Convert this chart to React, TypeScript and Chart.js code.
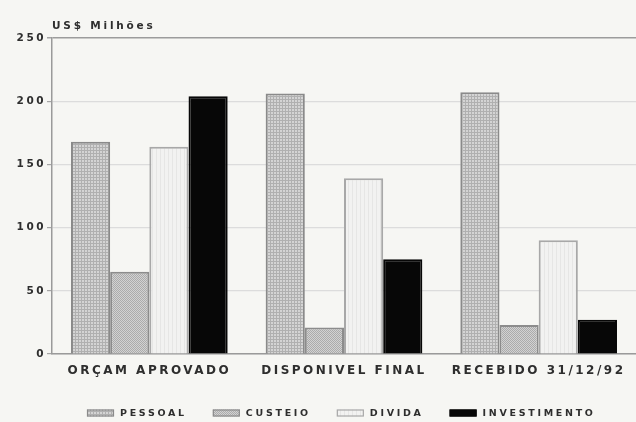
import React, { useEffect, useRef } from "react";
import { Chart, registerables } from "chart.js";

Chart.register(...registerables);

const categories = ["ORÇAM APROVADO", "DISPONIVEL FINAL", "RECEBIDO 31/12/92"];
const seriesNames = ["PESSOAL", "CUSTEIO", "DIVIDA", "INVESTIMENTO"];
const pessoal = [168, 206, 207];
const custeio = [65, 21, 23];
const divida = [164, 139, 90];
const investimento = [204, 75, 27];
const yTicks = [0, 50, 100, 150, 200, 250];
const unitLabel = "US$ Milhões";

const BG = "#f6f6f3";
const TEXT = "#2e2e2e";
const FONT = "'DejaVu Sans', sans-serif";

function makePattern(kind: string): CanvasPattern | string {
  const c = document.createElement("canvas");
  const g = c.getContext("2d")!;
  if (kind === "grid") {
    c.width = 3; c.height = 3;
    g.fillStyle = "#d4d4d4"; g.fillRect(0, 0, 3, 3);
    g.fillStyle = "#b0b0b0"; g.fillRect(0, 0, 3, 1); g.fillRect(0, 0, 1, 3);
  } else if (kind === "dots") {
    c.width = 2; c.height = 2;
    g.fillStyle = "#d2d2d2"; g.fillRect(0, 0, 2, 2);
    g.fillStyle = "#ababab"; g.fillRect(0, 0, 1, 1); g.fillRect(1, 1, 1, 1);
  } else {
    c.width = 4; c.height = 4;
    g.fillStyle = "#f2f2f1"; g.fillRect(0, 0, 4, 4);
    g.fillStyle = "#e6e6e5"; g.fillRect(0, 0, 1, 4);
  }
  return g.createPattern(c, "repeat") || "#ccc";
}

const spacingPlugin = {
  id: "spacing",
  beforeUpdate(chart: any) { chart.ctx.letterSpacing = "2.5px"; },
  beforeLayout(chart: any) { chart.ctx.letterSpacing = "2.5px"; },
  beforeDraw(chart: any) {
    const ctx = chart.ctx;
    ctx.save();
    ctx.fillStyle = BG;
    ctx.fillRect(0, 0, chart.width, chart.height);
    ctx.restore();
    ctx.letterSpacing = "2.5px";
  },
  afterDraw(chart: any) {
    const ctx = chart.ctx;
    const area = chart.chartArea;
    // unit title
    ctx.save();
    ctx.letterSpacing = "2.8px";
    ctx.font = `bold 10.5px ${FONT}`;
    ctx.fillStyle = TEXT;
    ctx.textAlign = "left";
    ctx.textBaseline = "middle";
    ctx.fillText(unitLabel, area.left, area.top - 12);
    ctx.restore();

    // legend
    ctx.save();
    ctx.letterSpacing = "2.7px";
    ctx.font = `bold 9.5px ${FONT}`;
    ctx.textBaseline = "middle";
    ctx.textAlign = "left";
    const boxW = 27, boxH = 7, gap = 6, itemGap = 26;
    const ds = chart.data.datasets;
    let x = 87;
    const y = 413;
    ds.forEach((d: any) => {
      ctx.fillStyle = d.backgroundColor;
      ctx.fillRect(x, y - boxH / 2, boxW, boxH);
      ctx.strokeStyle = d.borderColor;
      ctx.lineWidth = 1.2;
      ctx.strokeRect(x + 0.5, y - boxH / 2 + 0.5, boxW - 1, boxH - 1);
      ctx.fillStyle = TEXT;
      ctx.fillText(d.label, x + boxW + gap, y + 0.5);
      x += boxW + gap + ctx.measureText(d.label).width + itemGap;
    });
    ctx.restore();
    ctx.letterSpacing = "0px";
  },
};

export default function App() {
  const ref = useRef<HTMLCanvasElement>(null);
  useEffect(() => {
    const canvas = ref.current!;
    const fills = [makePattern("grid"), makePattern("dots"), makePattern("plain"), "#070707"];
    const borders = ["#8a8a8a", "#8c8c8c", "#a8a8a8", "#070707"];
    const values = [pessoal, custeio, divida, investimento];
    const chart = new Chart(canvas, {
      type: "bar",
      data: {
        labels: categories,
        datasets: seriesNames.map((name, i) => ({
          label: name,
          data: values[i],
          backgroundColor: fills[i] as any,
          borderColor: borders[i],
          borderWidth: 2,
          categoryPercentage: 0.805,
          barPercentage: 1,
        })),
      },
      options: {
        animation: false,
        responsive: false,
        devicePixelRatio: 1,
        layout: { padding: { top: 38, left: 0, right: 0, bottom: 30 } },
        plugins: { legend: { display: false }, tooltip: { enabled: false }, title: { display: false } },
        scales: {
          x: {
            grid: { display: false, drawTicks: false },
            border: { color: "#9a9a9a", width: 1.5 },
            ticks: {
              color: TEXT,
              font: { family: FONT, size: 12, weight: "bold" },
              padding: 10,
              maxRotation: 0,
              autoSkip: false,
            },
            afterFit(scale: any) { scale.height = 38; },
          },
          y: {
            min: 0,
            max: 250,
            afterBuildTicks(scale: any) { scale.ticks = yTicks.map((v) => ({ value: v })); },
            grid: {
              color: (c: any) => (c.tick && c.tick.value === 250 ? "#9c9c9c" : "#dcdcdc"),
              lineWidth: (c: any) => (c.tick && c.tick.value === 250 ? 1.5 : 1.2),
              tickColor: "#a5a5a5",
              tickLength: 5,
            },
            border: { color: "#9a9a9a", width: 1.5 },
            ticks: {
              color: TEXT,
              font: { family: FONT, size: 10.5, weight: "bold" },
              padding: 1,
            },
            afterFit(scale: any) { scale.width = 52; },
          },
        },
      },
      plugins: [spacingPlugin],
    });
    return () => chart.destroy();
  }, []);
  return (
    <div style={{ position: "fixed", left: 0, top: 0, width: 636, height: 422, background: BG }}>
      <canvas ref={ref} width={636} height={422} style={{ display: "block", width: 636, height: 422 }} />
    </div>
  );
}
